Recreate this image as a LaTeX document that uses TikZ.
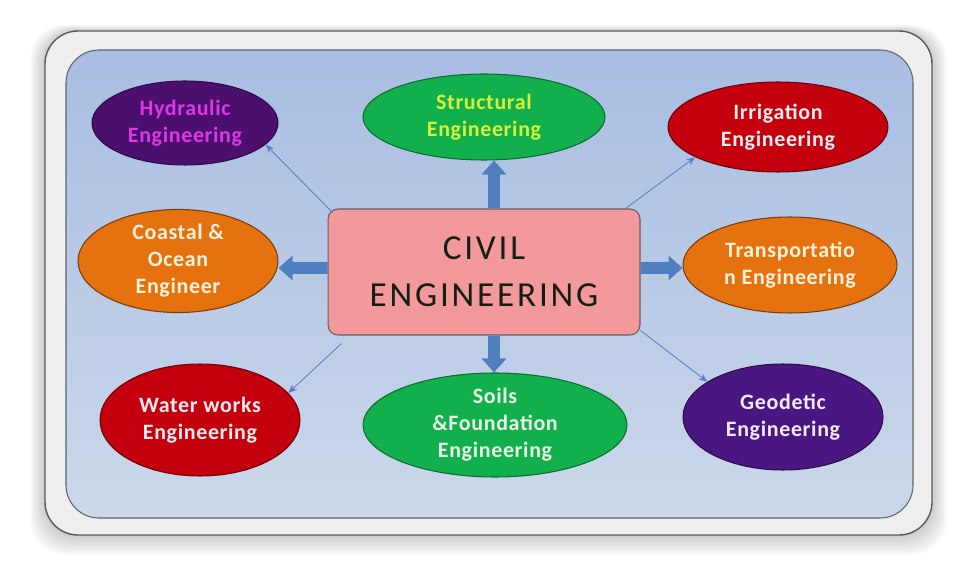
\documentclass[tikz,border=0pt]{standalone}
\usepackage{fontspec}
\setmainfont{Carlito}
\usetikzlibrary{arrows.meta,shapes.geometric,calc}
\definecolor{framegray}{HTML}{EEEEEE}
\definecolor{frameedge}{HTML}{5A5A5A}
\definecolor{paneltop}{HTML}{A8BDE2}
\definecolor{panelbot}{HTML}{CBD8EA}
\definecolor{paneledge}{HTML}{5E6670}
\definecolor{pinkbox}{HTML}{F4999B}
\definecolor{pinkedge}{HTML}{6E5A60}
\definecolor{civtext}{HTML}{141E14}
\definecolor{purpA}{HTML}{4B0F6E}
\definecolor{purpB}{HTML}{4A1682}
\definecolor{purpedge}{HTML}{2E0A48}
\definecolor{magtext}{HTML}{E035E8}
\definecolor{grn}{HTML}{12B04C}
\definecolor{grnedge}{HTML}{0B6E30}
\definecolor{yeltext}{HTML}{D6F23A}
\definecolor{red}{HTML}{C4000E}
\definecolor{rededge}{HTML}{6E0008}
\definecolor{org}{HTML}{E5720F}
\definecolor{orgedge}{HTML}{7A3C08}
\definecolor{creamtext}{HTML}{FFF2DA}
\definecolor{whtext}{HTML}{F8ECEC}
\definecolor{pgtext}{HTML}{E8F6E8}
\definecolor{lvtext}{HTML}{F4EAF8}
\definecolor{arrowblue}{HTML}{4F7FBF}
\definecolor{thinblue}{HTML}{5B80C0}
\begin{document}
\begin{tikzpicture}[x=0.02cm,y=-0.02cm,
  civbox/.style={rectangle, rounded corners=0.2cm, fill=pinkbox, draw=pinkedge, line width=0.6pt,
    minimum width=6.24cm, minimum height=2.52cm, align=center, text=civtext,
    font=\addfontfeature{LetterSpace=8}\fontsize{20}{27}\selectfont},
  ellip/.style={ellipse, inner sep=0pt, align=center, line width=0.6pt,
    font=\bfseries\addfontfeature{LetterSpace=3}\fontsize{12.5}{15.3}\selectfont},
  blockarr/.style={draw=arrowblue, line width=0.24cm, -{Triangle[width=0.48cm,length=0.28cm]}},
  thinarr/.style={draw=thinblue, line width=0.5pt, -{Stealth[length=5pt,width=4pt]}}]
\useasboundingbox (0,0) rectangle (972,570);
\fill[white] (0,0) rectangle (972,570);
% soft shadow
\foreach \i in {1,...,10}
  \fill[black,opacity=0.02,rounded corners=0.7cm] (45-1.5*\i,31-0.6*\i) rectangle (932+1.5*\i,535+2*\i);
% frame and panel
\draw[fill=framegray, draw=frameedge, line width=0.8pt, rounded corners=0.66cm] (45,31) rectangle (932,535);
\shade[top color=paneltop, bottom color=panelbot, rounded corners=0.66cm] (66,50) rectangle (913,518);
\draw[paneledge, line width=0.6pt, rounded corners=0.66cm] (66,50) rectangle (913,518);
% central node
\node[civbox] (civil) at (484,272) {CIVIL\\ENGINEERING};
% ellipses
\node[ellip, fill=purpA, draw=purpedge, text=magtext, minimum width=3.72cm, minimum height=1.68cm] (hyd) at (185,123) {Hydraulic\\Engineering};
\node[ellip, fill=grn, draw=grnedge, text=yeltext, minimum width=4.84cm, minimum height=1.72cm] (struct) at (484,117) {Structural\\Engineering};
\node[ellip, fill=red, draw=rededge, text=whtext, minimum width=4.4cm, minimum height=1.8cm] (irr) at (778,127) {Irrigation\\Engineering};
\node[ellip, fill=org, draw=orgedge, text=creamtext, minimum width=4.0cm, minimum height=1.8cm] (coastal) at (178,261) {Coastal \&\\Ocean\\Engineer};
\node[ellip, fill=org, draw=orgedge, text=creamtext, minimum width=4.28cm, minimum height=1.92cm] (trans) at (790,265) {Transportatio\\n Engineering};
\node[ellip, fill=red, draw=rededge, text=whtext, minimum width=4.0cm, minimum height=2.24cm] (water) at (200,420) {Water works\\Engineering};
\node[ellip, fill=grn, draw=grnedge, text=pgtext, minimum width=5.28cm, minimum height=2.08cm] (soils) at (495,425) {Soils\\\&Foundation\\Engineering};
\node[ellip, fill=purpB, draw=purpedge, text=lvtext, minimum width=4.0cm, minimum height=2.12cm] (geo) at (783,417) {Geodetic\\Engineering};
% block arrows
\draw[blockarr] ([xshift=0.2cm]civil.north) -- ([xshift=0.2cm]struct.south);
\draw[blockarr] ([xshift=0.2cm]civil.south) -- ([xshift=0.2cm]civil.south |- soils.north);
\draw[blockarr] ([yshift=0.08cm]civil.west) -- ([yshift=-0.14cm]coastal.east);
\draw[blockarr] ([yshift=0.08cm]civil.east) -- ([yshift=-0.06cm]trans.west);
% thin arrows
\draw[thinarr] ([xshift=0.1cm,yshift=-0.08cm]civil.north west) -- (hyd.-15);
\draw[thinarr] ([xshift=-0.3cm]civil.north east) -- (irr.200);
\draw[thinarr] ([xshift=0.28cm,yshift=-0.16cm]civil.south west) -- (water.17);
\draw[thinarr] ([yshift=0.1cm]civil.south east) -- (geo.155);
\end{tikzpicture}
\end{document}
